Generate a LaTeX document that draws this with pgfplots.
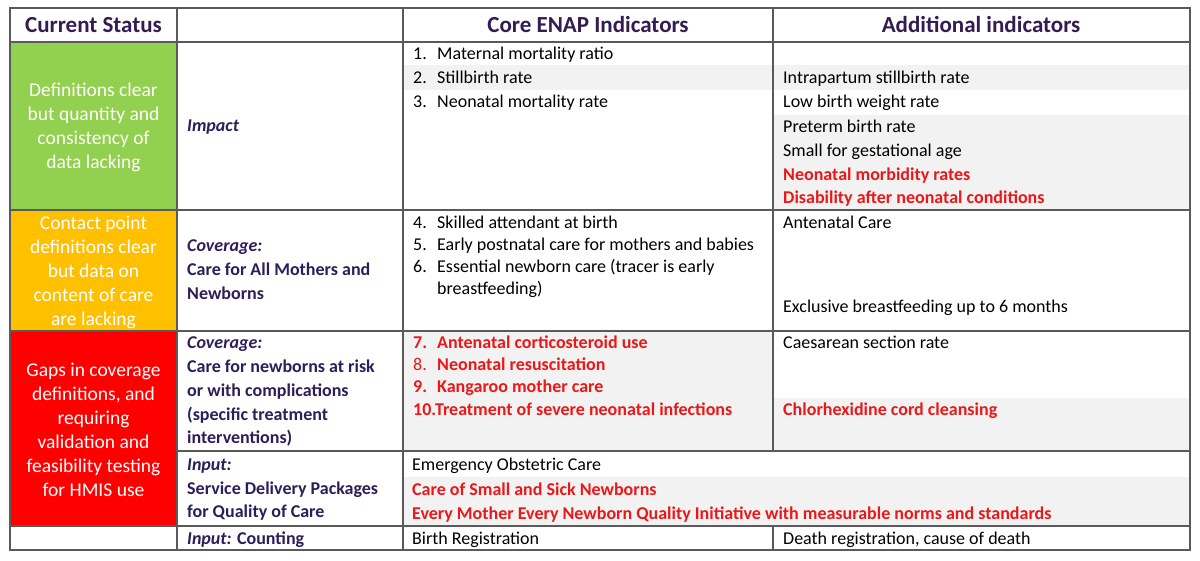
\documentclass[border=0pt]{standalone}
\usepackage{pgfplots}
\pgfplotsset{compat=1.18}
\usepackage{fontspec}
\setmainfont{Carlito}
\definecolor{hdr}{RGB}{52,28,82}
\definecolor{lab}{RGB}{45,30,90}
\definecolor{rd}{RGB}{234,24,24}
\definecolor{gr}{RGB}{146,208,80}
\definecolor{org}{RGB}{255,192,0}
\definecolor{redc}{RGB}{255,0,0}
\definecolor{ltgray}{RGB}{242,242,242}
\definecolor{gridc}{RGB}{90,90,90}
\newcommand{\fs}{\fontsize{18}{24}\selectfont}
\newcommand{\T}[3]{\node[anchor=mid west,inner sep=0pt,yshift=-3.5pt,font=\fs] at (axis cs:#1,#2) {#3};}
\newcommand{\Tb}[4]{\node[anchor=mid west,inner sep=0pt,yshift=-3.5pt,font=\fs\bfseries,text=#4] at (axis cs:#1,#2) {#3};}
\begin{document}
\begin{tikzpicture}
\begin{axis}[width=1200pt,height=561pt,scale only axis,xmin=0,xmax=1200,ymin=0,ymax=561,y dir=reverse,axis lines=none,ticks=none,clip=false]
% background
\fill[white] (axis cs:0,0) rectangle (axis cs:1200,561);
% light grey bands
\fill[ltgray] (axis cs:403,65) rectangle (axis cs:1190,90);
\fill[ltgray] (axis cs:773,115) rectangle (axis cs:1190,210);
\fill[ltgray] (axis cs:403,331) rectangle (axis cs:773,451);
\fill[ltgray] (axis cs:773,398) rectangle (axis cs:1190,451);
\fill[ltgray] (axis cs:403,477) rectangle (axis cs:1190,526);
% coloured status cells
\fill[gr] (axis cs:10,42) rectangle (axis cs:177,210);
\fill[org] (axis cs:10,210) rectangle (axis cs:177,331);
\fill[redc] (axis cs:10,331) rectangle (axis cs:177,526);
% grid
\draw[gridc,line width=1.3pt] (axis cs:10,8) rectangle (axis cs:1190,550);
\draw[gridc,line width=1.3pt] (axis cs:10,42) -- (axis cs:1190,42);
\draw[gridc,line width=1.3pt] (axis cs:10,210) -- (axis cs:1190,210);
\draw[gridc,line width=1.3pt] (axis cs:10,331) -- (axis cs:1190,331);
\draw[gridc,line width=1.3pt] (axis cs:177,451) -- (axis cs:1190,451);
\draw[gridc,line width=1.3pt] (axis cs:10,526) -- (axis cs:1190,526);
\draw[gridc,line width=1.3pt] (axis cs:177,8) -- (axis cs:177,550);
\draw[gridc,line width=1.3pt] (axis cs:403,8) -- (axis cs:403,550);
\draw[gridc,line width=1.3pt] (axis cs:773,8) -- (axis cs:773,451);
\draw[gridc,line width=1.3pt] (axis cs:773,526) -- (axis cs:773,550);
% headers
\node[font=\fontsize{23}{26}\selectfont\bfseries,text=hdr,inner sep=0pt] at (axis cs:93.5,25) {Current Status};
\node[font=\fontsize{23}{26}\selectfont\bfseries,text=hdr,inner sep=0pt] at (axis cs:588,25) {Core ENAP Indicators};
\node[font=\fontsize{23}{26}\selectfont\bfseries,text=hdr,inner sep=0pt] at (axis cs:981,25) {Additional indicators};
% status texts
\node[font=\fontsize{19.5}{24}\selectfont,text=white,align=center,inner sep=0pt] at (axis cs:93.5,127) {Definitions clear\\but quantity and\\consistency of\\data lacking};
\node[font=\fontsize{19.5}{24}\selectfont,text=white,align=center,inner sep=0pt] at (axis cs:93.5,272) {Contact point\\definitions clear\\but data on\\content of care\\are lacking};
\node[font=\fontsize{19.5}{24}\selectfont,text=white,align=center,inner sep=0pt] at (axis cs:93.5,430) {Gaps in coverage\\definitions, and\\requiring\\validation and\\feasibility testing\\for HMIS use};
% column 2
\Tb{187}{126}{\itshape Impact}{lab}
\Tb{187}{246}{\itshape Coverage:}{lab}
\Tb{187}{270}{Care for All Mothers and}{lab}
\Tb{187}{294}{Newborns}{lab}
\Tb{187}{343}{\itshape Coverage:}{lab}
\Tb{187}{367}{Care for newborns at risk}{lab}
\Tb{187}{391}{or with complications}{lab}
\Tb{187}{415}{(specific treatment}{lab}
\Tb{187}{438}{interventions)}{lab}
\Tb{187}{465}{\itshape Input:}{lab}
\Tb{187}{489}{Service Delivery Packages}{lab}
\Tb{187}{512}{for Quality of Care}{lab}
\Tb{187}{539}{{\itshape Input:} Counting}{lab}
% column 3
\T{413}{54}{1.}\T{437}{54}{Maternal mortality ratio}
\T{413}{78}{2.}\T{437}{78}{Stillbirth rate}
\T{413}{102}{3.}\T{437}{102}{Neonatal mortality rate}
\T{413}{223}{4.}\T{437}{223}{Skilled attendant at birth}
\T{413}{245}{5.}\T{437}{245}{Early postnatal care for mothers and babies}
\T{413}{267}{6.}\T{437}{267}{Essential newborn care (tracer is early}
\T{437}{289}{breastfeeding)}
\Tb{413}{343}{7.}{rd}\Tb{437}{343}{Antenatal corticosteroid use}{rd}
\node[anchor=mid west,inner sep=0pt,yshift=-3.5pt,font=\fs,text=rd] at (axis cs:413,365) {8.};\Tb{437}{365}{Neonatal resuscitation}{rd}
\Tb{413}{387}{9.}{rd}\Tb{437}{387}{Kangaroo mother care}{rd}
\Tb{413}{410}{10.Treatment of severe neonatal infections}{rd}
\T{412}{465}{Emergency Obstetric Care}
\Tb{412}{490}{Care of Small and Sick Newborns}{rd}
\Tb{412}{514}{Every Mother Every Newborn Quality Initiative with measurable norms and standards}{rd}
\T{412}{539}{Birth Registration}
% column 4
\T{783}{78}{Intrapartum stillbirth rate}
\T{783}{102}{Low birth weight rate}
\T{783}{127}{Preterm birth rate}
\T{783}{151}{Small for gestational age}
\Tb{783}{175}{Neonatal morbidity rates}{rd}
\Tb{783}{198}{Disability after neonatal conditions}{rd}
\T{783}{223}{Antenatal Care}
\T{783}{307}{Exclusive breastfeeding up to 6 months}
\T{783}{343}{Caesarean section rate}
\Tb{783}{410}{Chlorhexidine cord cleansing}{rd}
\T{783}{539}{Death registration, cause of death}
\end{axis}
\end{tikzpicture}
\end{document}
